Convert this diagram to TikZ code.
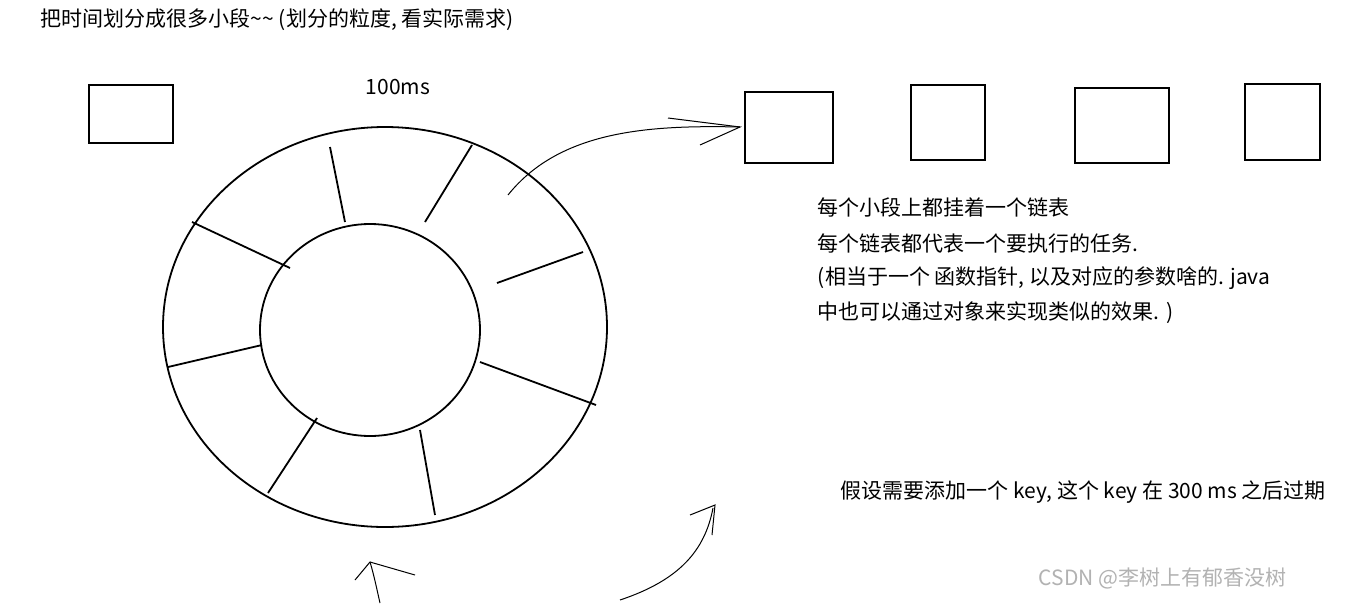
\documentclass[tikz,border=0pt]{standalone}
\usepackage{fontspec}
\setmainfont{Noto Sans CJK SC}
\begin{document}
\begin{tikzpicture}[x=1pt,y=-1pt,line width=1.8pt,
  box/.style={draw,line width=1.8pt},
  txt/.style={anchor=west,inner sep=0pt,font=\fontsize{21}{24}\selectfont}]
\useasboundingbox (0,0) rectangle (1356,603);
\fill[white] (0,0) rectangle (1356,603);
\node[txt] (t1) at (40,20) {把时间划分成很多小段\textasciitilde\textasciitilde\ (划分的粒度, 看实际需求)};
\node[txt] (t2) at (365,87) {100ms};
\draw[box] (89,85) rectangle (173,143);
\draw[box] (745,92) rectangle (833,163);
\draw[box] (911,85) rectangle (985,160);
\draw[box] (1075,88) rectangle (1169,163);
\draw[box] (1245,84) rectangle (1320,160);
\coordinate (c) at (385,327);
\coordinate (ci) at (370,330);
\draw (c) ellipse [x radius=222, y radius=200];
\draw (ci) ellipse [x radius=110, y radius=106];
\draw (330,147)--(345,222);
\draw (472,145)--(425,222);
\draw (583,252)--(497,283);
\draw (596,405)--(480,362);
\draw (420,430)--(435,515);
\draw (317,418)--(268,493);
\draw (168,367)--(262,345);
\draw (192,222)--(290,268);
\draw[line width=1pt] (508,195) .. controls (560,130) and (650,125) .. (740,127);
\draw[line width=1pt] (668,118)--(740,127)--(700,145);
\draw[line width=1pt] (620,600) .. controls (680,580) and (705,550) .. (713,508);
\draw[line width=1pt] (690,515)--(715,505)--(712,535);
\draw[line width=1pt] (380,603) .. controls (377,590) and (374,575) .. (370,562);
\draw[line width=1pt] (355,580)--(370,562)--(415,575);
\node[txt] (a1) at (817,207) {每个小段上都挂着一个链表};
\node[txt] (a2) at (817,243) {每个链表都代表一个要执行的任务.};
\node[txt] (a3) at (817,278) {(相当于一个 函数指针, 以及对应的参数啥的. java};
\node[txt] (a4) at (817,313) {中也可以通过对象来实现类似的效果. )};
\node[txt] (b1) at (840,492) {假设需要添加一个 key, 这个 key 在 300 ms 之后过期};
\node[txt,text=gray!60] (w) at (1038,578) {CSDN @李树上有郁香没树};
\end{tikzpicture}
\end{document}
